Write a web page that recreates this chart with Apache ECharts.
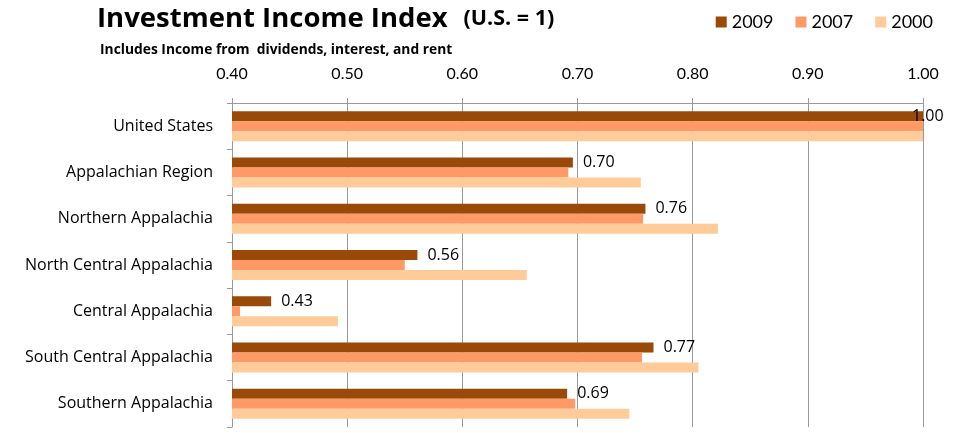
<!DOCTYPE html>
<html>
<head>
<meta charset="utf-8">
<script src="https://cdn.jsdelivr.net/npm/echarts@6/dist/echarts.min.js"></script>
<style>
  html, body { margin: 0; padding: 0; background: #fff; }
  #main { width: 962px; height: 433px; }
</style>
</head>
<body>
<div id="main"></div>
<script>
// regions, top to bottom
const categories = [
  'United States',
  'Appalachian Region',
  'Northern Appalachia',
  'North Central Appalachia',
  'Central Appalachia',
  'South Central Appalachia',
  'Southern Appalachia'
]
const years = ['2009', '2007', '2000']
const v2009 = [1.00, 0.696, 0.759, 0.561, 0.434, 0.766, 0.691]
const v2007 = [1.00, 0.692, 0.757, 0.550, 0.407, 0.756, 0.698]
const v2000 = [1.00, 0.755, 0.822, 0.656, 0.492, 0.805, 0.745]
const colors = ['#994a08', '#ff9966', '#ffcc99']

const font = 'Lato'
const font2 = 'Open Sans'

let myChart = echarts.init(document.getElementById('main'))

// label for the US bar sits inside the plot edge, like the original
let data2009 = v2009.map(function (v, i) {
  if (i === 0) return { value: v, label: { offset: [-21, 0] } }
  return v
})

let option = {
  animation: false,
  textStyle: { fontFamily: font },
  title: [
    {
      left: 92,
      top: 0,
      text: '{a|Investment Income Index}{b|(U.S. = 1)}',
      textStyle: {
        rich: {
          a: { fontFamily: font2, fontWeight: 'bold', fontSize: 27.5, color: '#000' },
          b: { fontFamily: font2, fontWeight: 'bold', fontSize: 21.5, color: '#000', padding: [0, 0, 0, 16] }
        }
      }
    },
    {
      left: 95,
      top: 38,
      text: 'Includes Income from  dividends, interest, and rent',
      textStyle: { fontFamily: font2, fontWeight: 'bold', fontSize: 13.8, color: '#000' }
    }
  ],
  legend: {
    right: 24,
    top: 8,
    itemWidth: 11,
    itemHeight: 11,
    itemGap: 22,
    icon: 'rect',
    textStyle: { fontFamily: font, fontSize: 18, color: '#000' },
    data: years
  },
  grid: {
    left: 232,
    right: 39,
    top: 103,
    bottom: 6
  },
  xAxis: {
    type: 'value',
    position: 'top',
    min: 0.4,
    max: 1.0,
    interval: 0.1,
    axisLine: { show: true, lineStyle: { color: '#999' } },
    axisTick: { show: true, length: 5, lineStyle: { color: '#999' } },
    axisLabel: {
      margin: 21,
      fontSize: 16,
      color: '#000',
      formatter: function (v) { return v.toFixed(2) }
    },
    splitLine: { show: true, lineStyle: { color: '#999', width: 1 } }
  },
  yAxis: {
    type: 'category',
    inverse: true,
    data: categories,
    axisLine: { show: true, lineStyle: { color: '#999' } },
    axisTick: { show: true, length: 5, lineStyle: { color: '#999' } },
    axisLabel: { margin: 19, fontFamily: font2, fontSize: 16, color: '#000' }
  },
  series: [
    {
      name: years[0],
      type: 'bar',
      data: data2009,
      barWidth: 10,
      barGap: '0%',
      itemStyle: { color: colors[0] },
      label: {
        show: true,
        position: 'right',
        distance: 10,
        fontFamily: font2,
        fontSize: 16,
        color: '#000',
        formatter: function (p) { return p.value.toFixed(2) }
      }
    },
    {
      name: years[1],
      type: 'bar',
      data: v2007,
      barWidth: 10,
      barGap: '0%',
      itemStyle: { color: colors[1] }
    },
    {
      name: years[2],
      type: 'bar',
      data: v2000,
      barWidth: 10,
      barGap: '0%',
      itemStyle: { color: colors[2] }
    }
  ]
}

myChart.setOption(option)
</script>
</body>
</html>
